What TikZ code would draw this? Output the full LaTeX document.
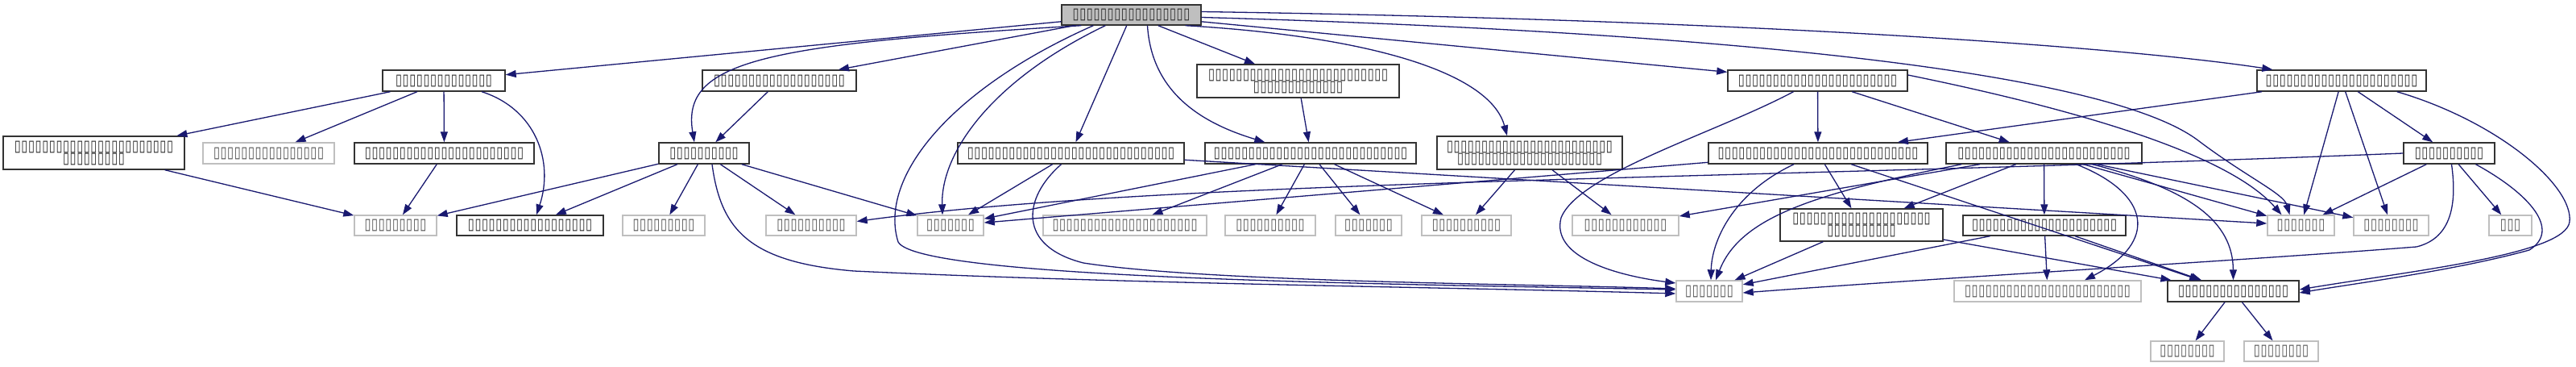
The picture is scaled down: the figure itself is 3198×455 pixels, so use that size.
\documentclass[tikz,border=0pt]{standalone}
\usepackage{fontspec}
\usepackage{graphicx}
\usetikzlibrary{arrows.meta,calc}
\newfontfamily\tofufont{DejaVu Sans}
\definecolor{edgecol}{HTML}{191970}
\definecolor{extcol}{HTML}{BFBFBF}
\newcommand\tofuglyph{\makebox[4.3pt]{\resizebox{4.0pt}{6.2pt}{\tofufont ▯}}}
\ExplSyntaxOn
\NewDocumentCommand\tofu{m}{\prg_replicate:nn{#1}{\tofuglyph}}
\ExplSyntaxOff
\newcommand\nd[7]{\node[#2, minimum width={(#4-#3)*0.5pt}, minimum height={(#6-#5)*0.5pt}] (#1) at ({(#3+#4)/2},{(#5+#6)/2}) {#7};}
\tikzset{
  box/.style={rectangle, inner sep=0pt, align=center, font=\fontsize{6}{7.5}\selectfont, line width=0.7pt},
  topnode/.style={box, draw=black!80, fill=extcol, text=black!85},
  doc/.style={box, draw=black!80, fill=white, text=black!85},
  ext/.style={box, draw=extcol, fill=white, text=black!70},
  e/.style={draw=edgecol, line width=0.65pt, -{Triangle[length=6.5pt,width=4.5pt]}}
}
\begin{document}
\begin{tikzpicture}[x=0.5pt,y=-0.5pt]
\fill[white] (0,0) rectangle (3198,455);
\useasboundingbox (0,0) rectangle (3198,455);
% nodes
\nd{n0}{topnode}{1318}{1491}{6}{31}{\tofu{17}}
\nd{n1}{doc}{475}{627}{87}{113}{\tofu{14}}
\nd{n2}{doc}{872}{1063}{87}{113}{\tofu{19}}
\nd{n3}{doc}{1486}{1737}{80}{121}{\tofu{26}\\\tofu{13}}
\nd{n4}{doc}{2145}{2368}{87}{113}{\tofu{23}}
\nd{n5}{doc}{2802}{3012}{87}{113}{\tofu{22}}
\nd{n6}{doc}{4}{229}{169}{210}{\tofu{23}\\\tofu{9}}
\nd{n7}{ext}{252}{415}{177}{203}{\tofu{16}}
\nd{n8}{doc}{440}{663}{177}{203}{\tofu{23}}
\nd{n9}{doc}{818}{930}{177}{203}{\tofu{10}}
\nd{n10}{doc}{1189}{1470}{177}{203}{\tofu{30}}
\nd{n11}{doc}{1496}{1758}{177}{203}{\tofu{28}}
\nd{n12}{doc}{1784}{2014}{169}{210}{\tofu{24}\\\tofu{21}}
\nd{n13}{doc}{2121}{2393}{177}{203}{\tofu{29}}
\nd{n14}{doc}{2416}{2659}{177}{203}{\tofu{25}}
\nd{n15}{doc}{2984}{3097}{177}{203}{\tofu{10}}
\nd{r1}{ext}{440}{542}{267}{292}{\tofu{9}}
\nd{r2}{doc}{567}{749}{267}{292}{\tofu{18}}
\nd{r3}{ext}{773}{875}{267}{292}{\tofu{9}}
\nd{r4}{ext}{951}{1063}{267}{292}{\tofu{10}}
\nd{r5}{ext}{1139}{1221}{267}{292}{\tofu{7}}
\nd{r6}{ext}{1295}{1498}{267}{292}{\tofu{21}}
\nd{r7}{ext}{1521}{1633}{267}{292}{\tofu{10}}
\nd{r8}{ext}{1658}{1740}{267}{292}{\tofu{7}}
\nd{r9}{ext}{1765}{1876}{267}{292}{\tofu{10}}
\nd{r10}{ext}{1952}{2084}{267}{292}{\tofu{12}}
\nd{r11}{doc}{2210}{2412}{259}{299}{\tofu{20}\\\tofu{10}}
\nd{r12}{doc}{2437}{2639}{267}{292}{\tofu{21}}
\nd{r13}{ext}{2815}{2898}{267}{292}{\tofu{7}}
\nd{r14}{ext}{2922}{3015}{267}{292}{\tofu{8}}
\nd{r15}{ext}{3090}{3143}{267}{292}{\tofu{3}}
\nd{s1}{ext}{2081}{2163}{348}{374}{\tofu{7}}
\nd{s2}{ext}{2426}{2658}{348}{374}{\tofu{24}}
\nd{s3}{doc}{2691}{2854}{348}{374}{\tofu{16}}
\nd{t1}{ext}{2670}{2761}{423}{448}{\tofu{8}}
\nd{t2}{ext}{2786}{2878}{423}{448}{\tofu{8}}
% edges from n0
\draw[e] (n0) -- (n1);
\draw[e] ($(n0.south west)+(25,0)$) .. controls (950,55) and (845,75) .. ($(n9.north)+(-12,0)$);
\draw[e] (n0) -- (n2);
\draw[e] ($(n0.south west)+(40,0)$) .. controls (1180,110) and (1090,220) .. (1115,300) .. controls (1140,345) and (1700,352) .. ($(s1.west)+(0,-2)$);
\draw[e] ($(n0.south west)+(55,0)$) .. controls (1230,100) and (1168,190) .. ($(r5.north)+(-10,0)$);
\draw[e] (n0) -- (n10);
\draw[e] ($(n0.south)+(20,0)$) .. controls (1430,120) and (1500,155) .. ($(n11.north west)+(75,0)$);
\draw[e] (n0) -- (n3);
\draw[e] ($(n0.south east)+(-20,0)$) .. controls (1700,45) and (1850,90) .. ($(n12.north)+(-28,0)$);
\draw[e] (n0) -- (n4);
\draw[e] ($(n0.east)+(0,3)$) .. controls (2150,40) and (2620,90) .. (2730,175) .. controls (2790,220) and (2835,240) .. ($(r13.north)+(-14,0)$);
\draw[e] ($(n0.east)+(0,-4)$) .. controls (2200,25) and (2650,60) .. ($(n5.north west)+(20,0)$);
% n1
\draw[e] (n1) -- (n6);
\draw[e] (n1) -- (n7);
\draw[e] (n1) -- (n8);
\draw[e] ($(n1.south)+(47,0)$) .. controls (665,135) and (688,200) .. ($(r2.north)+(8,0)$);
% n2, n3
\draw[e] (n2) -- (n9);
\draw[e] (n3) -- (n11);
% n4
\draw[e] (n4) -- (n13);
\draw[e] (n4) -- (n14);
\draw[e] ($(n4.south)+(-30,0)$) .. controls (2130,165) and (1960,215) .. (1938,270) .. controls (1925,320) and (2010,342) .. ($(s1.west)+(0,-10)$);
\draw[e] ($(n4.east)+(0,-7)$) .. controls (2600,140) and (2770,195) .. ($(r13.north)+(-24,0)$);
% n5
\draw[e] (n5) -- (n13);
\draw[e] (n5) -- (n15);
\draw[e] (n5) -- (r14);
\draw[e] (n5) -- (r13);
\draw[e] ($(n5.south east)+(-37,0)$) .. controls (3100,150) and (3195,230) .. (3190,275) .. controls (3185,315) and (3000,335) .. ($(s3.east)+(0,-2)$);
% n6, n8
\draw[e] (n6) -- (r1);
\draw[e] (n8) -- (r1);
% n9
\draw[e] (n9) -- (r1);
\draw[e] (n9) -- (r2);
\draw[e] (n9) -- (r3);
\draw[e] (n9) -- (r4);
\draw[e] (n9) -- (r5);
\draw[e] ($(n9.south)+(10,0)$) .. controls (895,285) and (930,325) .. (1060,336) .. controls (1400,352) and (1800,356) .. ($(s1.west)+(0,3)$);
% n10
\draw[e] (n10) -- (r5);
\draw[e] ($(n10.south)+(-12,0)$) .. controls (1270,245) and (1262,305) .. (1345,326) .. controls (1500,350) and (1900,352) .. ($(s1.west)+(0,-3)$);
\draw[e] (n10) -- (r13);
% n11
\draw[e] (n11) -- (r5);
\draw[e] (n11) -- (r6);
\draw[e] (n11) -- (r7);
\draw[e] (n11) -- (r8);
\draw[e] (n11) -- (r9);
% n12
\draw[e] (n12) -- (r9);
\draw[e] (n12) -- (r10);
% n13
\draw[e] (n13) -- (r5);
\draw[e] ($(n13.south)+(-30,0)$) .. controls (2150,240) and (2125,300) .. ($(s1.north)+(2,0)$);
\draw[e] (n13) -- (r11);
\draw[e] (n13) -- (s3);
% n14
\draw[e] (n14) -- (r12);
\draw[e] ($(n14.south)+(40,0)$) .. controls (2670,240) and (2680,300) .. ($(s2.north)+(46,0)$);
\draw[e] (n14) -- (r13);
\draw[e] ($(n14.south)+(60,0)$) .. controls (2720,235) and (2772,275) .. (s3.north);
\draw[e] (n14) -- (r14);
\draw[e] (n14) -- (r11);
\draw[e] (n14) -- (r10);
\draw[e] ($(n14.south west)+(20,0)$) .. controls (2250,240) and (2160,270) .. ($(s1.north)+(8,0)$);
% n15
\draw[e] (n15) -- (r15);
\draw[e] (n15) -- (r13);
\draw[e] ($(n15.south)+(3,0)$) .. controls (3050,250) and (3045,295) .. (3000,306) .. controls (2800,322) and (2400,345) .. ($(s1.east)+(0,2)$);
\draw[e] ($(n15.south)+(33,0)$) .. controls (3140,240) and (3180,285) .. (3140,310) .. controls (3050,335) and (2920,352) .. ($(s3.east)+(0,2)$);
\draw[e] (n15.west) .. controls (2200,222) and (1450,222) .. ($(r4.east)+(0,-5)$);
% r11, r12, s3
\draw[e] (r11) -- (s1);
\draw[e] (r11) -- (s3);
\draw[e] (r12) -- (s1);
\draw[e] (r12) -- (s2);
\draw[e] (r12) -- (s3);
\draw[e] (s3) -- (t1);
\draw[e] (s3) -- (t2);
\end{tikzpicture}
\end{document}
